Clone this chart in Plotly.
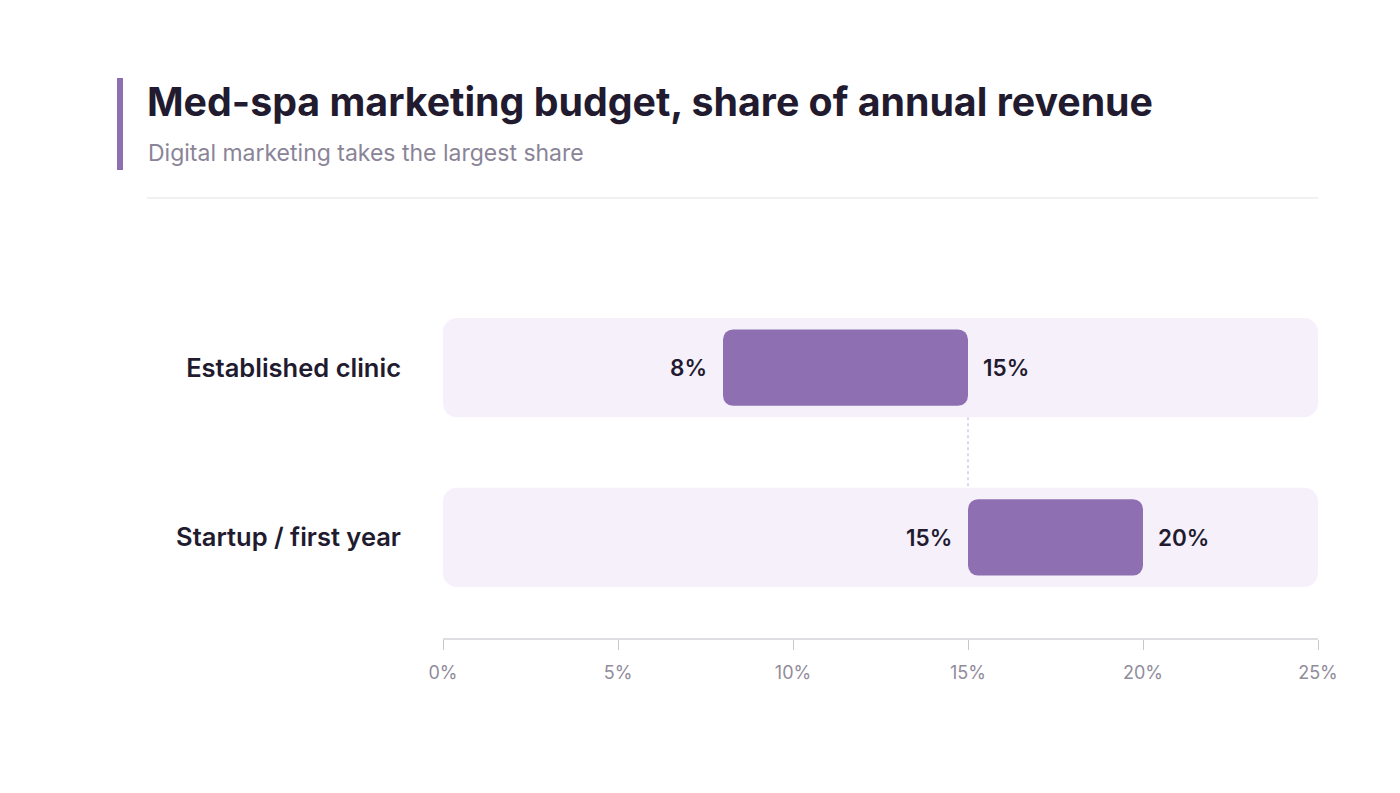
import plotly.graph_objects as go

categories = ["Established clinic", "Startup / first year"]
low_values = [8, 15]
high_values = [15, 20]
axis_max = 25
tick_values = [0, 5, 10, 15, 20, 25]
tick_labels = ["0%", "5%", "10%", "15%", "20%", "25%"]
title_text = "Med-spa marketing budget, share of annual revenue"
subtitle_text = "Digital marketing takes the largest share"

BAR = "#8e6fb2"
TRACK = "#f6f0fb"
DARK = "#221b30"
MUTED = "#8a8497"
FONT = "Inter"

ypos = [len(categories) - 1 - i for i in range(len(categories))]
track_w = 0.585
bar_w = 0.45

W, H = 1400, 793
L, R, T, B = 443, 82, 267, 155
pw, ph = W - L - R, H - T - B
def px(x): return (x - L) / pw
def py(y): return (H - B - y) / ph

fig = go.Figure()
fig.add_trace(go.Bar(
    y=ypos, x=[axis_max] * len(categories), base=[0] * len(categories),
    orientation="h", width=track_w, marker=dict(color=TRACK, cornerradius=14, line=dict(width=0)),
    hoverinfo="skip", showlegend=False))
fig.add_trace(go.Bar(
    y=ypos, x=[h - l for l, h in zip(low_values, high_values)], base=low_values,
    orientation="h", width=bar_w, marker=dict(color=BAR, cornerradius=10, line=dict(width=0)),
    showlegend=False))

annotations = []
for yv, lo, hi in zip(ypos, low_values, high_values):
    annotations.append(dict(x=lo, y=yv, xref="x", yref="y", text=f"{lo}%", showarrow=False,
                            xanchor="right", xshift=-14,
                            font=dict(family=FONT, size=22.5, color=DARK, weight=600)))
    annotations.append(dict(x=hi, y=yv, xref="x", yref="y", text=f"{hi}%", showarrow=False,
                            xanchor="left", xshift=13,
                            font=dict(family=FONT, size=22.5, color=DARK, weight=600)))

annotations.append(dict(x=px(145), y=py(102), xref="paper", yref="paper", text=title_text,
                        showarrow=False, xanchor="left", yanchor="middle",
                        font=dict(family=FONT, size=39.3, color=DARK, weight=700)))
annotations.append(dict(x=px(146), y=py(153), xref="paper", yref="paper", text=subtitle_text,
                        showarrow=False, xanchor="left", yanchor="middle",
                        font=dict(family=FONT, size=23, color=MUTED, weight=400)))

shapes = [
    dict(type="rect", xref="paper", yref="paper", x0=px(117), x1=px(123), y0=py(170), y1=py(78),
         fillcolor="#8e6fb2", line=dict(width=0)),
    dict(type="line", xref="paper", yref="paper", x0=px(147), x1=px(1318), y0=py(198), y1=py(198),
         line=dict(color="#ececf0", width=1.5)),
]
for i in range(len(categories) - 1):
    if high_values[i] == low_values[i + 1]:
        shapes.append(dict(type="line", xref="x", yref="y", x0=high_values[i], x1=high_values[i],
                           y0=ypos[i] - track_w / 2, y1=ypos[i + 1] + track_w / 2,
                           line=dict(color="#c9bfe0", width=1.2, dash="3px,3px"), layer="below"))

fig.update_layout(
    width=W, height=H, margin=dict(l=L, r=R, t=T, b=B),
    paper_bgcolor="white", plot_bgcolor="white", barmode="overlay",
    annotations=annotations, shapes=shapes,
    xaxis=dict(range=[0, axis_max], tickvals=tick_values, ticktext=tick_labels,
               showgrid=False, zeroline=False, showline=True, linecolor="#dddde2", linewidth=1.5,
               ticks="outside", ticklen=10, tickcolor="#c8c8d0", tickwidth=1,
               tickfont=dict(family=FONT, size=18, color="#918c9c"), ticklabelstandoff=8,
               fixedrange=True),
    yaxis=dict(range=[-track_w / 2 - 0.3, len(categories) - 1 + track_w / 2 + 0.3],
               tickvals=ypos, ticktext=categories, showgrid=False, zeroline=False,
               showline=False, ticks="", ticklabelstandoff=41,
               tickfont=dict(family=FONT, size=25.5, color=DARK, weight=600), fixedrange=True),
)
fig.write_html("out.html", config={"displayModeBar": False})
